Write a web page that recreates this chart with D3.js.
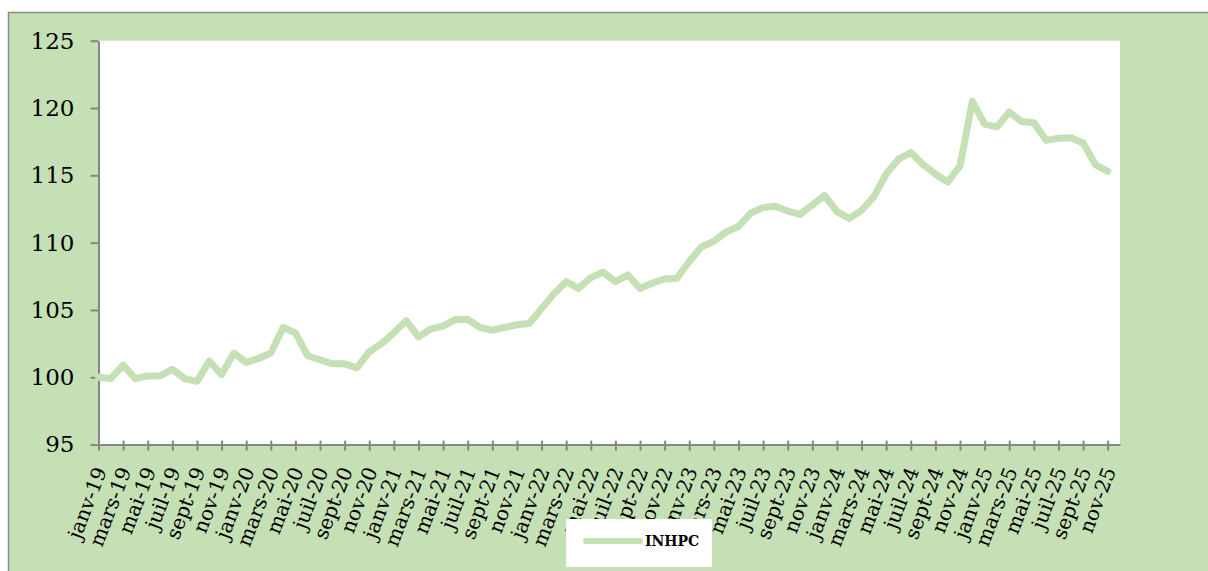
<!DOCTYPE html>
<html>
<head>
<meta charset="utf-8">
<script src="https://cdn.jsdelivr.net/npm/d3@7"></script>
<style>
  body { margin: 0; background: #fff; }
  svg { display: block; }
</style>
</head>
<body>
<div id="chart"></div>
<script>
// month abbreviations and years used for the category labels
const monthNames = ['janv', 'févr', 'mars', 'avr', 'mai', 'juin', 'juil', 'août', 'sept', 'oct', 'nov', 'déc'];
const years = ['19', '20', '21', '22', '23', '24', '25'];

// INHPC index, janv-19 .. nov-25 (déc-25 has no value yet)
const inhpc = [
  100.0, 99.9, 100.9, 99.9, 100.1, 100.1, 100.6, 99.9, 99.7, 101.2, 100.2, 101.8,
  101.1, 101.4, 101.8, 103.7, 103.3, 101.6, 101.3, 101.0, 101.0, 100.7, 101.9, 102.5,
  103.3, 104.2, 103.0, 103.6, 103.8, 104.3, 104.3, 103.7, 103.5, 103.7, 103.9, 104.0,
  105.1, 106.2, 107.1, 106.6, 107.4, 107.8, 107.1, 107.6, 106.6, 107.0, 107.3, 107.35,
  108.6, 109.7, 110.1, 110.8, 111.2, 112.2, 112.6, 112.7, 112.35, 112.1, 112.8, 113.5,
  112.3, 111.8, 112.4, 113.4, 115.1, 116.2, 116.7, 115.8, 115.1, 114.5, 115.7, 120.5,
  118.8, 118.6, 119.7, 119.0, 118.9, 117.6, 117.75, 117.8, 117.4, 115.8, 115.3
];

const yTicks = [95, 100, 105, 110, 115, 120, 125];
const seriesName = 'INHPC';

const categories = [];
years.forEach(function(yr) {
  monthNames.forEach(function(m) {
    categories.push(m + '-' + yr);
  });
});
const data = categories.map(function(c, i) {
  return { key: c, val: i < inhpc.length ? inhpc[i] : null };
});

const width = 1208, height = 571;
const green = '#c5e0b4';
const axisGrey = '#868686';
const plot = { left: 98.5, right: 1120, top: 40.7, bottom: 444.6 };
const font = '"DejaVu Serif", serif';

const svg = d3.select('#chart')
  .append('svg')
  .attr('width', width)
  .attr('height', height);

// chart area
svg.append('rect')
  .attr('x', 8.5)
  .attr('y', 12.5)
  .attr('width', width + 20)
  .attr('height', height + 20)
  .attr('fill', green)
  .attr('stroke', '#8c8c8c')
  .attr('stroke-width', 1.5);

svg.append('rect')
  .attr('x', plot.left)
  .attr('y', plot.top)
  .attr('width', plot.right - plot.left)
  .attr('height', plot.bottom - plot.top)
  .attr('fill', '#fff');

const x = d3.scalePoint()
  .domain(categories)
  .range([plot.left, plot.right]);

const y = d3.scaleLinear()
  .domain([95, 125])
  .range([plot.bottom, plot.top]);

// y axis
const yAxis = svg.append('g')
  .attr('transform', 'translate(' + plot.left + ',0)')
  .call(d3.axisLeft(y).tickValues(yTicks).tickSize(8).tickSizeOuter(0).tickPadding(16));
yAxis.select('.domain').attr('stroke', axisGrey).attr('stroke-width', 2);
yAxis.selectAll('.tick line').attr('stroke', axisGrey).attr('stroke-width', 2);
yAxis.selectAll('.tick text')
  .attr('font-family', font)
  .attr('font-size', 23)
  .attr('fill', '#000');

// x axis, a tick and a label every second month
const xTickValues = categories.filter(function(d, i) { return i % 2 === 0 && i < inhpc.length; });
const xAxis = svg.append('g')
  .attr('transform', 'translate(0,' + plot.bottom + ')')
  .call(d3.axisBottom(x).tickValues(xTickValues).tickSize(6).tickSizeOuter(0));
xAxis.select('.domain').attr('stroke', axisGrey).attr('stroke-width', 2);
xAxis.selectAll('.tick line')
  .attr('y1', -4)
  .attr('stroke', axisGrey)
  .attr('stroke-width', 2);
xAxis.selectAll('.tick text')
  .attr('font-family', font)
  .attr('font-size', 20)
  .attr('fill', '#000')
  .attr('text-anchor', 'end')
  .attr('x', 0)
  .attr('y', 0)
  .attr('dy', 0)
  .attr('transform', 'translate(8,26) rotate(-69)');

// line
const line = d3.line()
  .defined(function(d) { return d.val !== null; })
  .x(function(d) { return x(d.key); })
  .y(function(d) { return y(d.val); });

svg.append('path')
  .datum(data)
  .attr('fill', 'none')
  .attr('stroke', green)
  .attr('stroke-width', 7)
  .attr('stroke-linejoin', 'round')
  .attr('stroke-linecap', 'round')
  .attr('d', line);

// legend
const legend = svg.append('g').attr('transform', 'translate(566,519)');
legend.append('rect')
  .attr('width', 146)
  .attr('height', 48)
  .attr('fill', '#fff');
legend.append('line')
  .attr('x1', 20)
  .attr('x2', 74)
  .attr('y1', 22)
  .attr('y2', 22)
  .attr('stroke', green)
  .attr('stroke-width', 6)
  .attr('stroke-linecap', 'round');
legend.append('text')
  .attr('x', 79)
  .attr('y', 27)
  .attr('font-family', font)
  .attr('font-weight', 'bold')
  .attr('font-size', 14)
  .attr('fill', '#000')
  .text(seriesName);
</script>
</body>
</html>
